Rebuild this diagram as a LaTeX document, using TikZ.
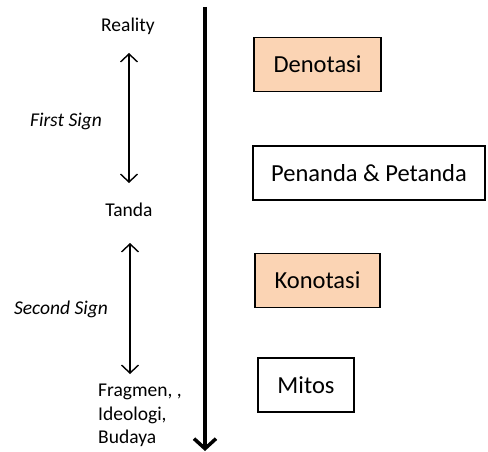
\documentclass[tikz,border=0pt]{standalone}
\usepackage{fontspec}
\setmainfont{Carlito}
\usetikzlibrary{arrows.meta}
\definecolor{peach}{HTML}{FBD4B4}
\tikzset{
  lbl/.style={font=\fontsize{19.5}{23.5}\selectfont, inner sep=0pt},
  signlbl/.style={lbl, font=\fontsize{19.5}{23.5}\selectfont\itshape},
  levelbox/.style={draw, line width=1.8pt, font=\fontsize{24.5}{29}\selectfont, inner sep=0pt, minimum height=54pt},
  hilite/.style={levelbox, fill=peach},
  twoway/.style={line width=1.4pt, {Straight Barb[length=8pt,width=17pt,line width=1.4pt]}-{Straight Barb[length=8pt,width=17pt,line width=1.4pt]}},
}
\begin{document}
\begin{tikzpicture}[x=1pt, y=-1pt]
\useasboundingbox (0,0) rectangle (488,452);
% left column
\node[lbl] (real) at (128,26){Reality};
\node[lbl] (tanda) at (129,210){Tanda};
\node[lbl, align=left, anchor=north west] (frag) at (98,384){Fragmen, ,\\Ideologi,\\Budaya};
\node[signlbl] (first) at (66,121){First Sign};
\node[signlbl] (second) at (61,309){Second Sign};
\coordinate (a1) at (129,53);
\coordinate (a2) at (129,183);
\coordinate (b1) at (130,243);
\coordinate (b2) at (130,374);
\draw[twoway](a1) -- (a2);
\draw[twoway](b1) -- (b2);
% main arrow
\coordinate (top) at (205,7);
\coordinate (bot) at (205,451);
\draw[line width=3.5pt, -{Straight Barb[length=10pt,width=22pt,line width=3.5pt]}](top) -- (bot);
% right column
\node[hilite, minimum width=127pt] (deno) at (317.5,64.5){Denotasi};
\node[levelbox, minimum width=232pt] (pena) at (369,173){Penanda \& Petanda};
\node[hilite, minimum width=125pt] (kono) at (317.5,280.5){Konotasi};
\node[levelbox, minimum width=96pt] (mitos) at (306,385){Mitos};
\end{tikzpicture}
\end{document}
